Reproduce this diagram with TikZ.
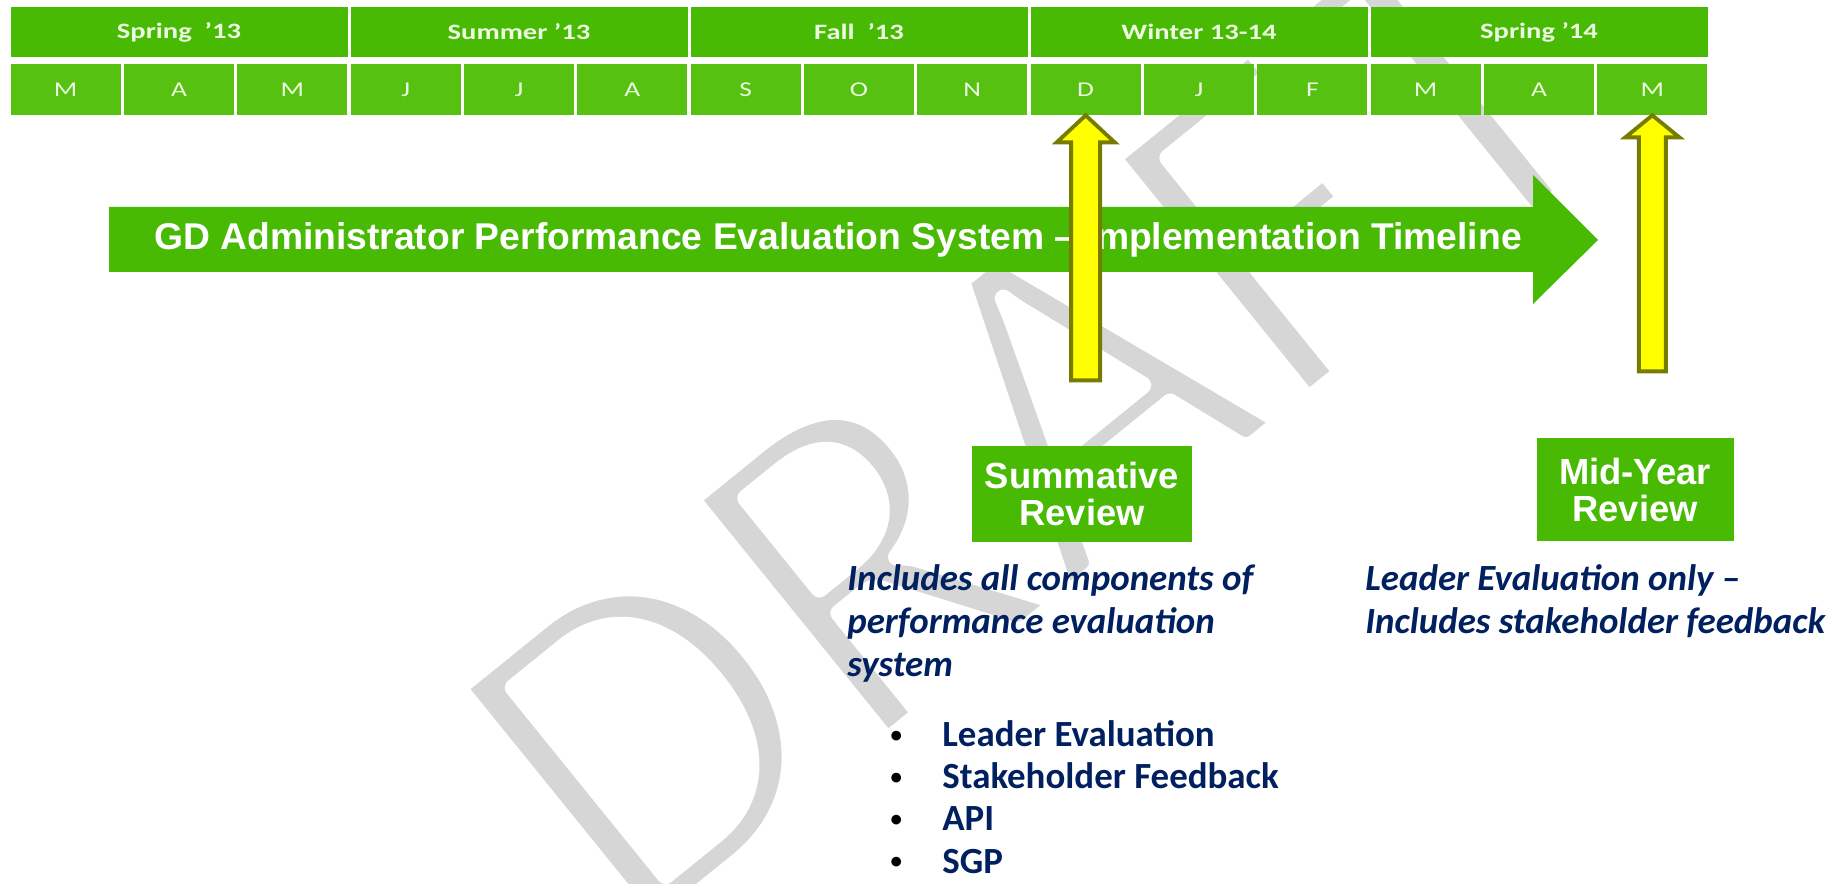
\documentclass[tikz,border=0pt]{standalone}
\usepackage{fontspec}
\setmainfont{Carlito}
\newfontfamily\arialfont{Liberation Sans}
\newfontfamily\barfont{Carlito}[FakeStretch=1.3]
\usetikzlibrary{positioning}
\definecolor{GDGreen}{RGB}{72,186,4}
\definecolor{GDMonth}{RGB}{86,193,16}
\definecolor{GDNavy}{RGB}{0,32,96}
\definecolor{GDYellow}{RGB}{255,255,0}
\definecolor{GDOlive}{RGB}{118,124,0}
\definecolor{GDLabel}{RGB}{236,250,226}
\definecolor{GDWater}{RGB}{214,214,214}
\newcommand{\gpx}{0.02cm}
% thin the watermark glyphs: fill grey, stroke white over the edges
\newcommand{\thinglyphs}[1]{\special{pdf:literal direct 1 1 1 RG 1 j 10 w 2 Tr}#1\special{pdf:literal direct 0 Tr}}

\begin{document}
\begin{tikzpicture}[x=0.02cm, y=-0.02cm,
  season/.style={fill=GDGreen, minimum width=337*\gpx, minimum height=50*\gpx, inner sep=0pt, text=GDLabel, font=\barfont\bfseries\fontsize{12.5}{14}\selectfont},
  month/.style={fill=GDMonth, minimum width=110*\gpx, minimum height=51*\gpx, inner sep=0pt, text=GDLabel, font=\barfont\fontsize{12}{14}\selectfont},
  headline/.style={text=white, inner sep=0pt, font=\arialfont\bfseries\fontsize{21.2}{24}\selectfont},
  hiarrow/.style={fill=GDYellow, draw=GDOlive, line width=2.2pt},
  review/.style={fill=GDGreen, text=white, align=center, inner sep=0pt, font=\arialfont\bfseries\fontsize{20.7}{21.5}\selectfont},
  note/.style={text=GDNavy, align=left, inner sep=0pt, anchor=north west, font=\bfseries\itshape\fontsize{21}{24.5}\selectfont},
  item/.style={text=GDNavy, inner sep=0pt, anchor=base west, font=\bfseries\fontsize{21}{24}\selectfont},
  water/.style={text=GDWater, inner sep=0pt, font=\fontsize{276}{276}\selectfont}
]
\useasboundingbox (0,0) rectangle (1840,884);

% watermark
\node[water, rotate=39] (draft) at (1036,420) {\thinglyphs{DRAFT}};

% seasons and months
\foreach \lab [count=\i] in {Spring~ ’13, Summer ’13, Fall~ ’13, Winter 13-14, Spring ’14}
  \node[season] (s\i) at ({9+340*(\i-0.5)},32) {\lab};
\foreach \lab [count=\j] in {M,A,M,J,J,A,S,O,N,D,J,F,M,A,M}
  \node[month] (m\j) at ({9+340/3*(\j-0.5)},89.5) {\lab};

% timeline arrow
\fill[GDGreen] (109,207) -- (1533,207) -- (1533,175) -- (1598,240) -- (1533,304) -- (1533,272) -- (109,272) -- cycle;
\node[headline] (head) at (838,240) {GD Administrator Performance Evaluation System – Implementation Timeline};

% review markers
\draw[hiarrow] (m10.south) -- ++(29,27) -- ++(-14.5,0) -- ++(0,238) -- ++(-29,0) -- ++(0,-238) -- ++(-14.5,0) -- cycle;
\draw[hiarrow] (m15.south) -- ++(27,22) -- ++(-13.5,0) -- ++(0,234) -- ++(-27,0) -- ++(0,-234) -- ++(-13.5,0) -- cycle;

\node[review, minimum width=220*\gpx, minimum height=96*\gpx] (summ) at (1082,494) {Summative\\Review};
\node[review, minimum width=197*\gpx, minimum height=103*\gpx] (mid) at (1635,490) {Mid-Year\\Review};

\node[note] (summnote) at (847,564) {Includes all components of\\performance evaluation\\system};
\node[note] (midnote) at (1365,564) {Leader Evaluation only –\\Includes stakeholder feedback};

\foreach \txt [count=\k] in {Leader Evaluation, Stakeholder Feedback, API, SGP}
  \node[item] (b\k) at (942,{747+42*(\k-1)}) {\llap{\raisebox{2.3pt}{\color{black}\fontsize{13}{13}\selectfont•}\hspace{23pt}}\txt};
\end{tikzpicture}
\end{document}
